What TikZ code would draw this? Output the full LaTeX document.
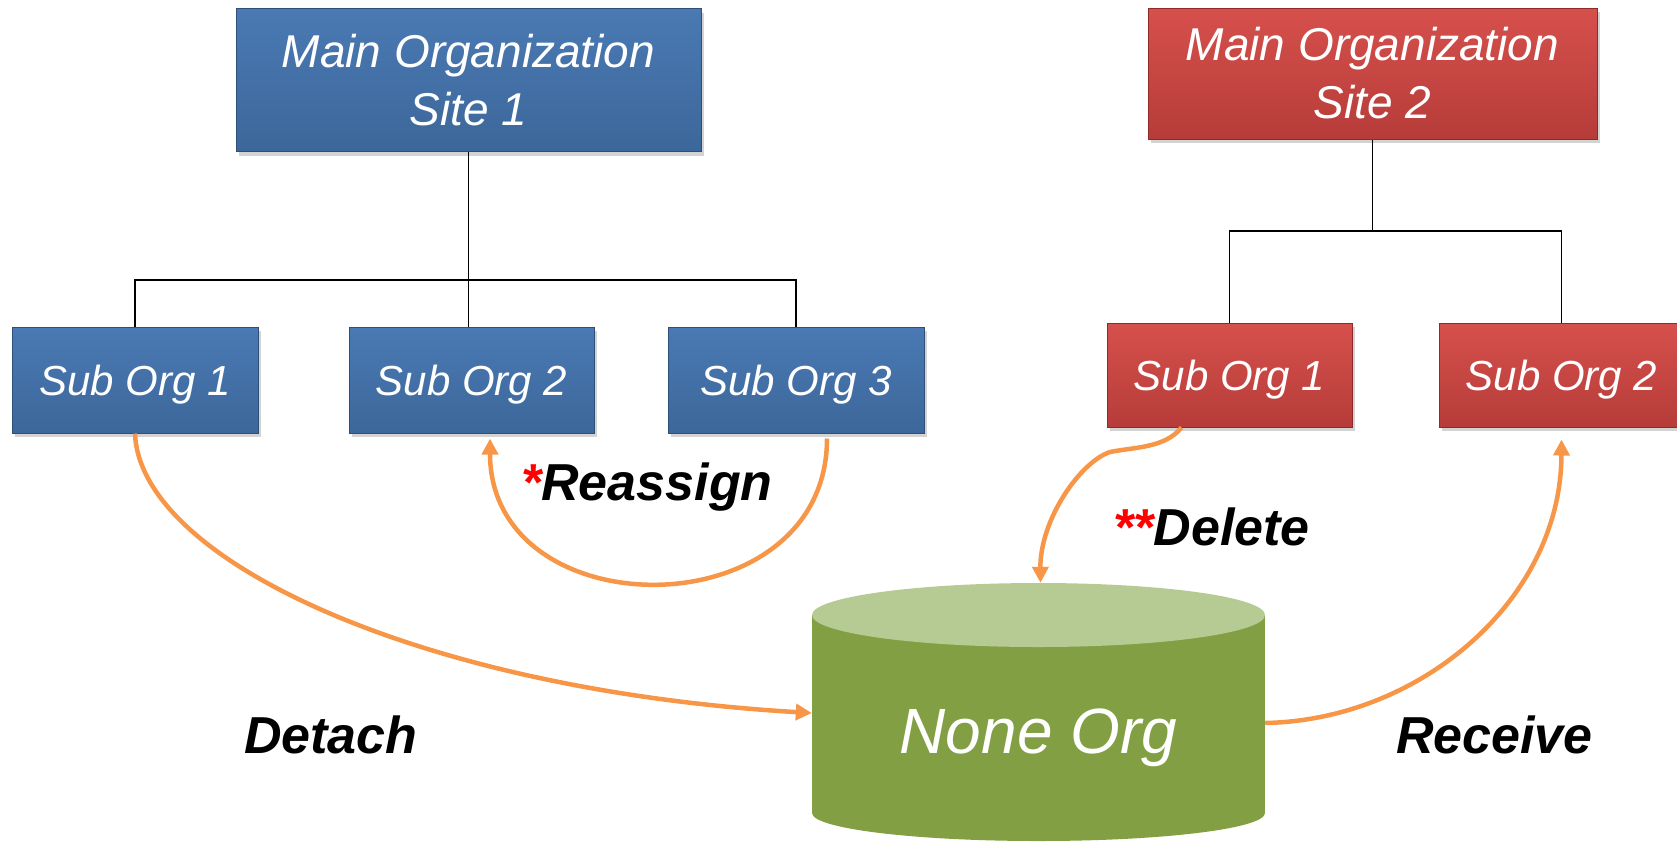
\documentclass[tikz,border=0pt]{standalone}
\usepackage{fontspec}
\setmainfont{Liberation Sans}
\usepackage{tikz}
\usetikzlibrary{positioning, arrows.meta, shadows}
\usepackage{xcolor}

\definecolor{orgblue}{HTML}{3C679A}
\definecolor{orgbluetop}{HTML}{4A79B3}
\definecolor{orgblueline}{HTML}{2E5078}
\definecolor{orgred}{HTML}{B63C39}
\definecolor{orgredtop}{HTML}{D6504C}
\definecolor{orgredline}{HTML}{8E2A28}
\definecolor{cylside}{HTML}{82A043}
\definecolor{cyltop}{HTML}{B6CB93}
\definecolor{floworange}{HTML}{F79646}

\begin{document}
\begin{tikzpicture}[x=1pt, y=-1pt,
    bluebox/.style={rectangle, draw=orgblueline, line width=1pt,
      top color=orgbluetop, bottom color=orgblue, text=white,
      font=\fontsize{42}{48}\selectfont\itshape, minimum height=106pt,
      text height=30pt, text depth=0pt,
      drop shadow={shadow xshift=3pt, shadow yshift=-4pt, opacity=.35}},
    redbox/.style={rectangle, draw=orgredline, line width=1pt,
      top color=orgredtop, bottom color=orgred, text=white,
      font=\fontsize{42}{48}\selectfont\itshape, minimum height=104pt,
      text height=30pt, text depth=0pt,
      drop shadow={shadow xshift=3pt, shadow yshift=-4pt, opacity=.35}},
    mainfont/.style={font=\fontsize{46}{58}\selectfont\itshape, align=center,
      text height=, text depth=},
    tree/.style={line width=1.5pt},
    flow/.style={-{Triangle[length=16pt,width=16pt]}, draw=floworange, line width=4.5pt},
    tag/.style={anchor=base west, inner sep=0pt,
      font=\fontsize{52}{60}\selectfont\bfseries\itshape},
  ]
  \useasboundingbox (0,0) rectangle (1677,844);

  % site 1 and its sub orgs
  \node[bluebox, mainfont, minimum width=465pt, minimum height=143pt] (site1) at (468.5,80) {Main Organization\\Site 1};
  \foreach \x/\w/\n in {135/246/1, 471.5/245/2, 796/256/3}
    \node[bluebox, minimum width=\w pt] (site1_sub\n) at (\x,380) {Sub Org \n};

  \coordinate (bus1) at (468.5,280);
  \draw[tree] (site1.south) -- (site1.south |- site1_sub2.north);
  \draw[tree] (site1_sub1.north) |- (bus1) -| (site1_sub3.north);

  % site 2 and its sub orgs
  \node[redbox, mainfont, minimum width=449pt, minimum height=131pt] (site2) at (1372.5,73.5) {Main Organization\\Site 2};
  \node[redbox, minimum width=245pt] (site2_sub1) at (1229.5,375) {Sub Org 1};
  \node[redbox, minimum width=245pt] (site2_sub2) at (1561.5,375) {Sub Org 2};

  \coordinate (bus2) at (1372.5,231);
  \draw[tree] (site2.south) -- (bus2);
  \draw[tree] (site2_sub1.north) |- (bus2) -| (site2_sub2.north);

  % the none org drum
  \fill[cylside] (812,615) rectangle (1265,813);
  \fill[cylside] (1038.5,813) ellipse [x radius=226.5pt, y radius=28pt];
  \fill[cyltop] (1038.5,615) ellipse [x radius=226.5pt, y radius=32pt];
  \node[text=white, font=\fontsize{64}{70}\selectfont\itshape,
    text height=46pt, text depth=0pt,
    minimum width=453pt, minimum height=294pt] (none_org) at (1038.5,730) {None Org};

  % moves between orgs
  \draw[flow] (site1_sub1.south) .. controls (140,560) and (420,690) .. ([yshift=17pt]none_org.west);
  \draw[flow] ([xshift=31pt, yshift=-5pt]site1_sub3.south) .. controls (827,631) and (490,631) .. ([xshift=18.5pt, yshift=-5pt]site1_sub2.south);
  \draw[flow] ([xshift=-48pt]site2_sub1.south) .. controls (1165,448) and (1135,447) .. (1110,452)
    .. controls (1080,462) and (1040,520) .. ([xshift=2pt]none_org.north);
  \draw[flow] ([yshift=7pt]none_org.east) .. controls (1420,720) and (1561,600) .. ([yshift=-12pt]site2_sub2.south);

  \node[tag] (reassign) at (521,500) {\textcolor{red}{*}Reassign};
  \node[tag] (delete) at (1113,545) {\textcolor{red}{**}Delete};
  \node[tag] (detach) at (244,753) {Detach};
  \node[tag] (receive) at (1396,753) {Receive};
\end{tikzpicture}
\end{document}
